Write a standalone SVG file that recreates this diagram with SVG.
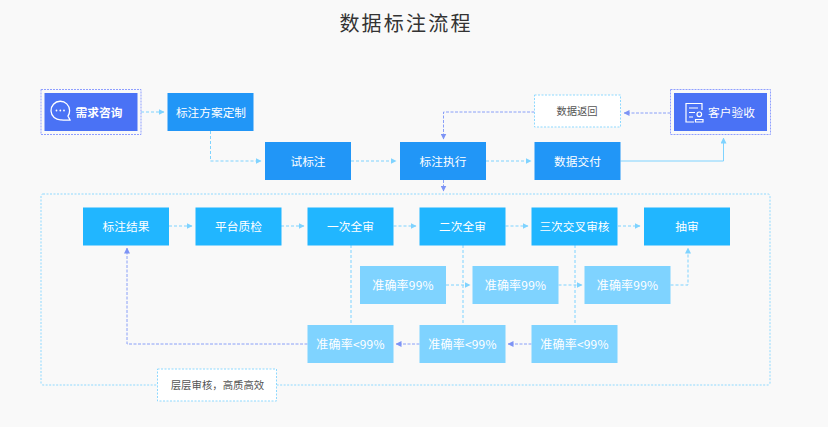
<svg xmlns="http://www.w3.org/2000/svg" width="828" height="427" viewBox="0 0 828 427">
<style>
text{font-family:"Noto Sans CJK SC","Noto Sans",sans-serif;text-anchor:middle;dominant-baseline:central;font-size:11.700px;fill:#fff;transform:translateY(-.7px)}
.d{fill:#2196f7}.c{fill:#21b6ff}.l{fill:#7fd3ff}.p{fill:#4a72f5}
.w{fill:#fff;stroke:#8fd9ff;stroke-dasharray:2 1.500}
.o{fill:none;stroke:#8f9fff;stroke-dasharray:2 1}
.a{fill:none;stroke:#7fd3ff;stroke-dasharray:3 2}
.b{fill:none;stroke:#8aa0f8;stroke-dasharray:3 1.500}
.s{fill:none;stroke:#7fd3ff}
.i{fill:none;stroke:#fff;stroke-width:1.200}
.t{font-size:12px;letter-spacing:.2px}
</style>
<defs>
<marker id="ma" markerUnits="userSpaceOnUse" markerWidth="6" markerHeight="6" refX="5.500" refY="3" orient="auto"><path d="M0 0L6 3L0 6Z" fill="#7fd3ff"/></marker>
<marker id="mb" markerUnits="userSpaceOnUse" markerWidth="6" markerHeight="6" refX="5.500" refY="3" orient="auto"><path d="M0 0L6 3L0 6Z" fill="#7d93f5"/></marker>
</defs>
<rect width="828" height="427" fill="#f9f9f9"/>
<text id="title" x="406" y="23" style="font-size:20px;letter-spacing:2.200px;fill:#333;font-weight:400">数据标注流程</text>
<g id="frame"><rect x="41" y="194" width="729" height="191" rx="2" fill="none" stroke="#8fd9ff" stroke-dasharray="2 1.500"/></g>
<g id="connectors">
<path class="a" marker-end="url(#ma)" d="M141 112H164"/>
<path class="a" marker-end="url(#ma)" d="M210.500 131V161H261"/>
<path class="a" marker-end="url(#ma)" d="M351 161H396"/>
<path class="a" marker-end="url(#ma)" d="M486 161H531"/>
<path class="s" marker-end="url(#ma)" d="M620.500 161H723.500V138"/>
<path class="b" marker-end="url(#mb)" d="M670.500 113H624"/>
<path class="b" marker-end="url(#mb)" d="M534.500 112H443.500V139"/>
<path class="b" marker-end="url(#mb)" d="M443.500 180V191"/>
<path class="a" marker-end="url(#ma)" d="M169 226H192"/>
<path class="a" marker-end="url(#ma)" d="M281 226H304"/>
<path class="a" marker-end="url(#ma)" d="M393.500 226H416"/>
<path class="a" marker-end="url(#ma)" d="M505.500 226H528"/>
<path class="a" marker-end="url(#ma)" d="M618 226H640"/>
<path class="a" d="M351 245V325"/>
<path class="a" d="M463 245V325"/>
<path class="a" d="M575 245V325"/>
<path class="a" marker-end="url(#ma)" d="M446 285H470"/>
<path class="a" marker-end="url(#ma)" d="M558.500 285H582"/>
<path class="a" marker-end="url(#ma)" d="M670.500 285H688V248"/>
<path class="b" marker-end="url(#mb)" d="M531.500 344H508"/>
<path class="b" marker-end="url(#mb)" d="M419.500 344H396"/>
<path class="b" marker-end="url(#mb)" d="M307.500 344H127V248"/>
</g>
<g id="n1"><rect x="41" y="89.500" width="100" height="45" class="o"/><rect x="44.500" y="93" width="93" height="38" class="p"/>
<path class="i" d="M61 119.800A9.300 9.300 0 1 1 69.600 110.500Q69.600 114 68 116L70 120Q65 120.500 61 119.800Z" style="stroke-width:1.300"/>
<circle cx="56.500" cy="110.500" r="0.900" fill="#fff"/><circle cx="60.300" cy="110.500" r="0.900" fill="#fff"/><circle cx="64" cy="110.500" r="0.900" fill="#fff"/>
<text x="99" y="112" style="font-weight:700">需求咨询</text></g>
<g id="n2"><rect x="167.500" y="93" width="86" height="38" class="d"/><text x="211" y="112">标注方案定制</text></g>
<g id="n3"><rect x="265" y="142" width="86" height="38" class="d"/><text x="308" y="161">试标注</text></g>
<g id="n4"><rect x="400" y="142" width="86" height="38" class="d"/><text x="443" y="161">标注执行</text></g>
<g id="n5"><rect x="534.500" y="142" width="86" height="38" class="d"/><text x="577.500" y="161">数据交付</text></g>
<g id="n6"><rect x="534.500" y="95" width="86" height="32" class="w"/><text x="577" y="111" style="fill:#555;font-size:10.300px">数据返回</text></g>
<g id="n7"><rect x="670.500" y="89.500" width="100" height="45" class="o"/><rect x="674" y="93" width="93" height="38" class="p"/>
<path class="i" d="M702 110V103.500H686V122H694M689 108H698M689 112.500H695M689 117H693"/><circle cx="699.300" cy="114.300" r="2.300" class="i"/><path class="i" d="M695.500 122V119.500H703V122Z"/>
<text x="731.500" y="112">客户验收</text></g>
<g id="n8"><rect x="83" y="207.500" width="86" height="38" class="c"/><text x="126" y="226">标注结果</text></g>
<g id="n9"><rect x="195.500" y="207.500" width="86" height="38" class="c"/><text x="238.500" y="226">平台质检</text></g>
<g id="n10"><rect x="307.500" y="207.500" width="86" height="38" class="c"/><text x="350.500" y="226">一次全审</text></g>
<g id="n11"><rect x="419.500" y="207.500" width="86" height="38" class="c"/><text x="462.500" y="226">二次全审</text></g>
<g id="n12"><rect x="531.500" y="207.500" width="86" height="38" class="c"/><text x="574.500" y="226">三次交叉审核</text></g>
<g id="n13"><rect x="644" y="207.500" width="86" height="38" class="c"/><text x="687" y="226">抽审</text></g>
<g id="n14"><rect x="360" y="266" width="86" height="38" class="l"/><text class="t" x="403" y="285">准确率99%</text></g>
<g id="n15"><rect x="472.500" y="266" width="86" height="38" class="l"/><text class="t" x="515.500" y="285">准确率99%</text></g>
<g id="n16"><rect x="584.500" y="266" width="86" height="38" class="l"/><text class="t" x="627.500" y="285">准确率99%</text></g>
<g id="n17"><rect x="307.500" y="325" width="86" height="38" class="l"/><text class="t" x="350.500" y="344">准确率&lt;99%</text></g>
<g id="n18"><rect x="419.500" y="325" width="86" height="38" class="l"/><text class="t" x="462.500" y="344">准确率&lt;99%</text></g>
<g id="n19"><rect x="531.500" y="325" width="86" height="38" class="l"/><text class="t" x="574.500" y="344">准确率&lt;99%</text></g>
<g id="n20"><rect x="157.500" y="369" width="119" height="32" class="w"/><text x="217.500" y="385" style="fill:#555;font-size:10.400px">层层审核，高质高效</text></g>
</svg>
